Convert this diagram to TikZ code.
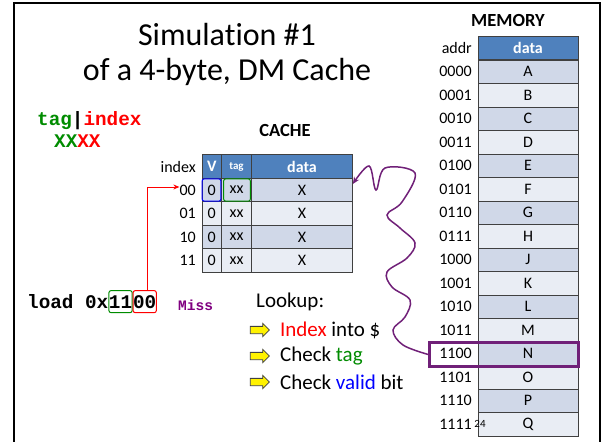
\documentclass[tikz,border=0pt]{standalone}
\usepackage{fontspec}
\setmainfont{Carlito}[Ligatures={NoCommon}]
\newfontfamily\codefont{Liberation Mono}
\usetikzlibrary{positioning,arrows.meta,shapes.arrows}
\definecolor{hdrblue}{RGB}{79,129,189}
\definecolor{rowdark}{RGB}{208,216,232}
\definecolor{rowlight}{RGB}{233,237,244}
\definecolor{taggreen}{RGB}{0,140,0}
\definecolor{misspurple}{RGB}{128,0,128}
\definecolor{hitpurple}{RGB}{112,32,120}
\tikzset{
  cell/.style={draw=black!75, line width=0.7pt, minimum height=23.5pt, inner sep=0pt,
    font=\fontsize{16}{18}\selectfont},
  hdr/.style={cell, fill=hdrblue, text=white, font=\bfseries\fontsize{16}{18}\selectfont},
  lbl/.style={inner sep=0pt, font=\fontsize{16}{18}\selectfont},
  code/.style={inner sep=0pt, font=\codefont\bfseries\fontsize{19.3}{22}\selectfont},
  hitbox/.style={inner xsep=0pt, minimum height=22pt, rounded corners=2pt, line width=1pt},
  yarrow/.style={single arrow, draw=black!75, fill=yellow, line width=0.8pt, inner sep=0pt,
    minimum height=19pt, single arrow head extend=3pt},
  looktext/.style={inner sep=0pt, anchor=west, font=\fontsize{21}{24}\selectfont}
}
\begin{document}
\begin{tikzpicture}[x=1pt, y=-1pt]
  \fill[white] (0,0) rectangle (604,441);
  \useasboundingbox (0,0) rectangle (604,441);
  \draw[line width=2.6pt] (14,3) rectangle (600,470);

  % title
  \node[font=\fontsize{32}{36}\selectfont] (title1) at (227,35) {Simulation \#1};
  \node[font=\fontsize{32}{36}\selectfont] (title2) at (227,72) {of a 4-byte, DM Cache};

  % address split
  \node[code, anchor=base west] (split) at (37,125)
    {\textcolor{taggreen}{tag}|\textcolor{red}{index}};
  \node[code, anchor=base west] (bits) at (54,147)
    {\textcolor{taggreen}{XX}\textcolor{red}{XX}};

  % cache
  \node[font=\bfseries\fontsize{18.5}{20}\selectfont] (cachettl) at (285,130) {CACHE};
  \node[lbl, anchor=east] (cidx) at (196,166.5) {index};
  \node[hdr, minimum width=19.5pt] (cv) at (211.75,166.5) {V};
  \node[hdr, minimum width=30pt, font=\bfseries\fontsize{11}{12}\selectfont] (ct) at (236.5,166.5) {tag};
  \node[hdr, minimum width=101pt] (cd) at (302,166.5) {data};
  \foreach \i [count=\k from 0] in {00,01,10,11} {
    \ifodd\k \def\rc{rowlight}\else \def\rc{rowdark}\fi
    \pgfmathsetmacro\yy{190+23.5*\k}
    \node[lbl, anchor=east] (i\k) at (196,\yy) {\i};
    \node[cell, fill=\rc, minimum width=19.5pt] (v\k) at (211.75,\yy) {0};
    \node[cell, fill=\rc, minimum width=30pt] (t\k) at (236.5,\yy) {xx};
    \node[cell, fill=\rc, minimum width=101pt] (d\k) at (302,\yy) {X};
  }
  \draw[blue, rounded corners=2pt, line width=1pt]
    ([shift={(0.5pt,-1pt)}]v0.north west) rectangle ([shift={(-1pt,1pt)}]v0.south east);
  \draw[taggreen, rounded corners=2pt, line width=1pt]
    ([shift={(2.5pt,-1pt)}]t0.north west) rectangle ([shift={(-1.5pt,1pt)}]t0.south east);

  % memory
  \node[font=\bfseries\fontsize{18.5}{20}\selectfont] (memttl) at (508,20) {MEMORY};
  \node[lbl, anchor=east] (maddr) at (472,48) {addr};
  \node[hdr, minimum width=100pt] (mh) at (528,48) {data};
  \foreach \a/\d [count=\k from 0] in {0000/A,0001/B,0010/C,0011/D,0100/E,0101/F,0110/G,0111/H,
      1000/J,1001/K,1010/L,1011/M,1100/N,1101/O,1110/P,1111/Q} {
    \ifodd\k \def\rc{rowlight}\else \def\rc{rowdark}\fi
    \pgfmathsetmacro\yy{71.75+23.5*\k}
    \node[lbl, anchor=east] (a\k) at (472,\yy) {\a};
    \node[cell, fill=\rc, minimum width=100pt] (m\k) at (528,\yy) {\d};
  }
  \node[draw=hitpurple, line width=2.5pt, minimum width=149pt, minimum height=24pt] (hit) at (504,354.5) {};
  \node[inner sep=0pt, font=\fontsize{11}{12}\selectfont] (pgno) at (480,424) {24};

  % squiggle back to the cache line
  \draw[hitpurple, line width=1.5pt, -{Stealth[length=7pt,width=6pt]}]
    plot[smooth, tension=0.6] coordinates {(hit.west) (403,345) (393,330) (405,317) (410,300)
      (392,287) (387,272) (407,258) (415,243) (400,228) (387,215) (402,202) (415,173)
      (385,168) (376,190) (369,166) ([yshift=6pt]d0.east)};

  % load instruction
  \node[code, anchor=base west] (ld) at (27,308) {load 0x};
  \node[code, hitbox, draw=taggreen, base right=0pt of ld] (tg) {11};
  \node[code, hitbox, draw=red, base right=0pt of tg] (ix) {00};
  \node[inner sep=0pt, anchor=base west, text=misspurple,
    font=\codefont\bfseries\fontsize{14.5}{16}\selectfont] (miss) at (178,310) {Miss};
  \draw[red, line width=1pt, -{Stealth[length=6pt,width=5pt]}]
    ([xshift=3pt]ix.north) |- ([yshift=3pt]i0.west);

  % lookup steps
  \node[looktext] (look) at (256,302) {Lookup:};
  \node[yarrow] (ya1) at (258,330) {\rule{0pt}{6.5pt}};
  \node[yarrow] (ya2) at (258,356) {\rule{0pt}{6.5pt}};
  \node[yarrow] (ya3) at (258,382) {\rule{0pt}{6.5pt}};
  \node[looktext, right=10pt of ya1] (s1) {\textcolor{red}{Index} into \$};
  \node[looktext, right=10pt of ya2] (s2) {Check \textcolor{taggreen}{tag}};
  \node[looktext, right=10pt of ya3] (s3) {Check \textcolor{blue}{valid} bit};
\end{tikzpicture}
\end{document}
